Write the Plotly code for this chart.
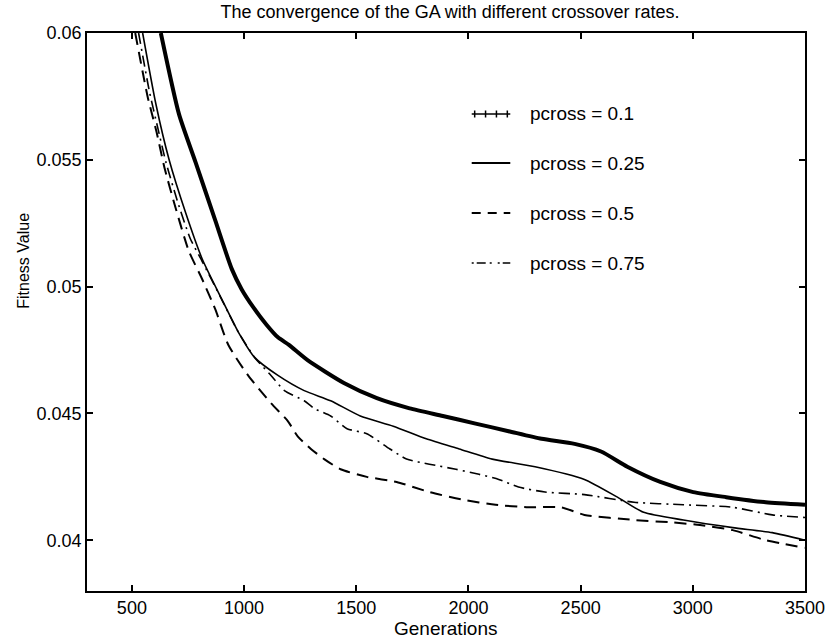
import plotly.graph_objects as go

# ---------------- data ----------------
gen_p01 = [629, 710, 784, 872, 945, 989, 1040, 1100, 1151, 1200, 1283, 1445, 1592, 1738, 1886,
           2032, 2179, 2326, 2473, 2591, 2708, 2855, 3002, 3149, 3325, 3500]
fit_p01 = [0.0600, 0.0568, 0.0549, 0.0526, 0.0507, 0.0499, 0.0492, 0.0485, 0.0480, 0.0477,
           0.0471, 0.0462, 0.0456, 0.0452, 0.0449, 0.0446, 0.0443, 0.0440, 0.0438, 0.0435,
           0.0429, 0.0423, 0.0419, 0.0417, 0.0415, 0.0414]

gen_p025 = [548, 607, 666, 740, 813, 901, 975, 1048, 1151, 1268, 1386, 1518, 1665, 1812,
            1959, 2106, 2297, 2517, 2664, 2781, 2958, 3178, 3354, 3500]
fit_p025 = [0.0600, 0.0572, 0.0550, 0.0529, 0.0511, 0.0495, 0.0482, 0.0472, 0.0465, 0.0459,
            0.0455, 0.0449, 0.0445, 0.0440, 0.0436, 0.0432, 0.0429, 0.0424, 0.0417, 0.0411,
            0.0408, 0.0405, 0.0403, 0.0400]

gen_p05 = [515, 570, 610, 645, 695, 754, 813, 872, 930, 1018, 1121, 1195, 1239, 1298, 1357,
           1430, 1547, 1680, 1826, 1974, 2121, 2267, 2414, 2517, 2738, 2914, 3032, 3178,
           3325, 3500]
fit_p05 = [0.0600, 0.0575, 0.0561, 0.0547, 0.0531, 0.0514, 0.0503, 0.0491, 0.0477, 0.0465,
           0.0454, 0.0447, 0.0441, 0.0436, 0.0432, 0.0428, 0.0425, 0.0423, 0.0419, 0.0416,
           0.0414, 0.0413, 0.0413, 0.0410, 0.0408, 0.0407, 0.0406, 0.0404, 0.0400, 0.0397]

gen_p075 = [530, 578, 617, 652, 702, 760, 813, 900, 975, 1048, 1120, 1180, 1268, 1312, 1386,
            1459, 1547, 1650, 1724, 1826, 1944, 2047, 2135, 2223, 2341, 2517, 2738, 2958,
            3178, 3354, 3500]
fit_p075 = [0.0600, 0.0577, 0.0562, 0.0549, 0.0534, 0.0519, 0.0510, 0.0495, 0.0482, 0.0472,
            0.0465, 0.0459, 0.0455, 0.0452, 0.0449, 0.0444, 0.0442, 0.0436, 0.0432, 0.0430,
            0.0428, 0.0426, 0.0424, 0.0421, 0.0419, 0.0418, 0.0415, 0.0414, 0.0413, 0.0410,
            0.0409]

x_tick_vals = [500, 1000, 1500, 2000, 2500, 3000, 3500]
x_tick_text = ["500", "1000", "1500", "2000", "2500", "3000", "3500"]
y_tick_vals = [0.04, 0.045, 0.05, 0.055, 0.06]
y_tick_text = ["0.04", "0.045", "0.05", "0.055", "0.06"]

legend_labels = ["pcross = 0.1", "pcross = 0.25", "pcross = 0.5", "pcross = 0.75"]
title_text = "The convergence of the GA with different crossover rates."
x_title = "Generations"
y_title = "Fitness Value"

# ---------------- layout geometry ----------------
W, H = 837, 640
L, R, T, B = 87, 24, 33, 49
PW, PH = W - L - R, H - T - B
FONT = "Liberation Sans, Arial, Helvetica, sans-serif"


def px_x(px):
    return (px - L) / PW


def px_y(py):
    return (H - B - py) / PH


fig = go.Figure()
fig.add_trace(go.Scatter(x=gen_p01, y=fit_p01, mode="lines", name=legend_labels[0],
                         line=dict(color="black", width=4, shape="spline", smoothing=0.6)))
fig.add_trace(go.Scatter(x=gen_p025, y=fit_p025, mode="lines", name=legend_labels[1],
                         line=dict(color="black", width=1.6, shape="spline", smoothing=0.6)))
fig.add_trace(go.Scatter(x=gen_p05, y=fit_p05, mode="lines", name=legend_labels[2],
                         line=dict(color="black", width=2, dash="12px,7px",
                                   shape="spline", smoothing=0.6)))
fig.add_trace(go.Scatter(x=gen_p075, y=fit_p075, mode="lines", name=legend_labels[3],
                         line=dict(color="black", width=1.6, dash="11px,5px,2px,5px",
                                   shape="spline", smoothing=0.6)))

# ---------------- manual legend ----------------
row_y = [114, 163, 213, 263]
sym_x0, sym_x1, text_x = 476, 515, 533
shapes = []
annotations = []
# row 0: "++++"
shapes.append(dict(type="line", xref="paper", yref="paper",
                   x0=px_x(sym_x0), x1=px_x(sym_x1), y0=px_y(row_y[0]), y1=px_y(row_y[0]),
                   line=dict(color="black", width=1.5)))
for cx in [479, 490, 501, 512]:
    shapes.append(dict(type="line", xref="paper", yref="paper",
                       x0=px_x(cx), x1=px_x(cx), y0=px_y(row_y[0] - 3.5), y1=px_y(row_y[0] + 3.5),
                       line=dict(color="black", width=1.5)))
legend_styles = [None,
                 dict(color="black", width=1.8),
                 dict(color="black", width=2, dash="9px,7px"),
                 dict(color="black", width=1.6, dash="2px,3px,9px,4px,2px,6px")]
for i in range(1, 4):
    shapes.append(dict(type="line", xref="paper", yref="paper",
                       x0=px_x(sym_x0), x1=px_x(sym_x1), y0=px_y(row_y[i]), y1=px_y(row_y[i]),
                       line=legend_styles[i]))
for i, lab in enumerate(legend_labels):
    annotations.append(dict(text=lab, xref="paper", yref="paper", x=px_x(text_x), y=px_y(row_y[i]),
                            xanchor="left", yanchor="middle", showarrow=False,
                            font=dict(family=FONT, size=19, color="black")))

# axis titles as annotations
annotations.append(dict(text=x_title, xref="paper", yref="paper", x=0.5, y=px_y(628),
                        xanchor="center", yanchor="middle", showarrow=False,
                        font=dict(family=FONT, size=19, color="black")))
annotations.append(dict(text=y_title, xref="paper", yref="paper", x=px_x(22), y=px_y(261),
                        xanchor="center", yanchor="middle", showarrow=False, textangle=-90,
                        font=dict(family=FONT, size=16, color="black")))

fig.update_layout(
    width=W, height=H,
    margin=dict(l=L, r=R, t=T, b=B),
    paper_bgcolor="white", plot_bgcolor="white",
    showlegend=False,
    title=dict(text=title_text, x=(L + PW / 2) / W, xanchor="center",
               y=1 - 12 / H, yanchor="middle", yref="container",
               font=dict(family=FONT, size=18, color="black")),
    shapes=shapes,
    annotations=annotations,
)
axis_common = dict(showline=True, linecolor="black", linewidth=1.6, mirror="ticks",
                   ticks="inside", ticklen=6, tickwidth=1.5, tickcolor="black",
                   showgrid=False, zeroline=False,
                   tickfont=dict(family=FONT, size=18, color="black"))
fig.update_xaxes(range=[300, 3500], tickvals=x_tick_vals, ticktext=x_tick_text, **axis_common)
fig.update_yaxes(range=[0.038, 0.06], tickvals=y_tick_vals, ticktext=y_tick_text, **axis_common)

fig.write_html("out.html")
